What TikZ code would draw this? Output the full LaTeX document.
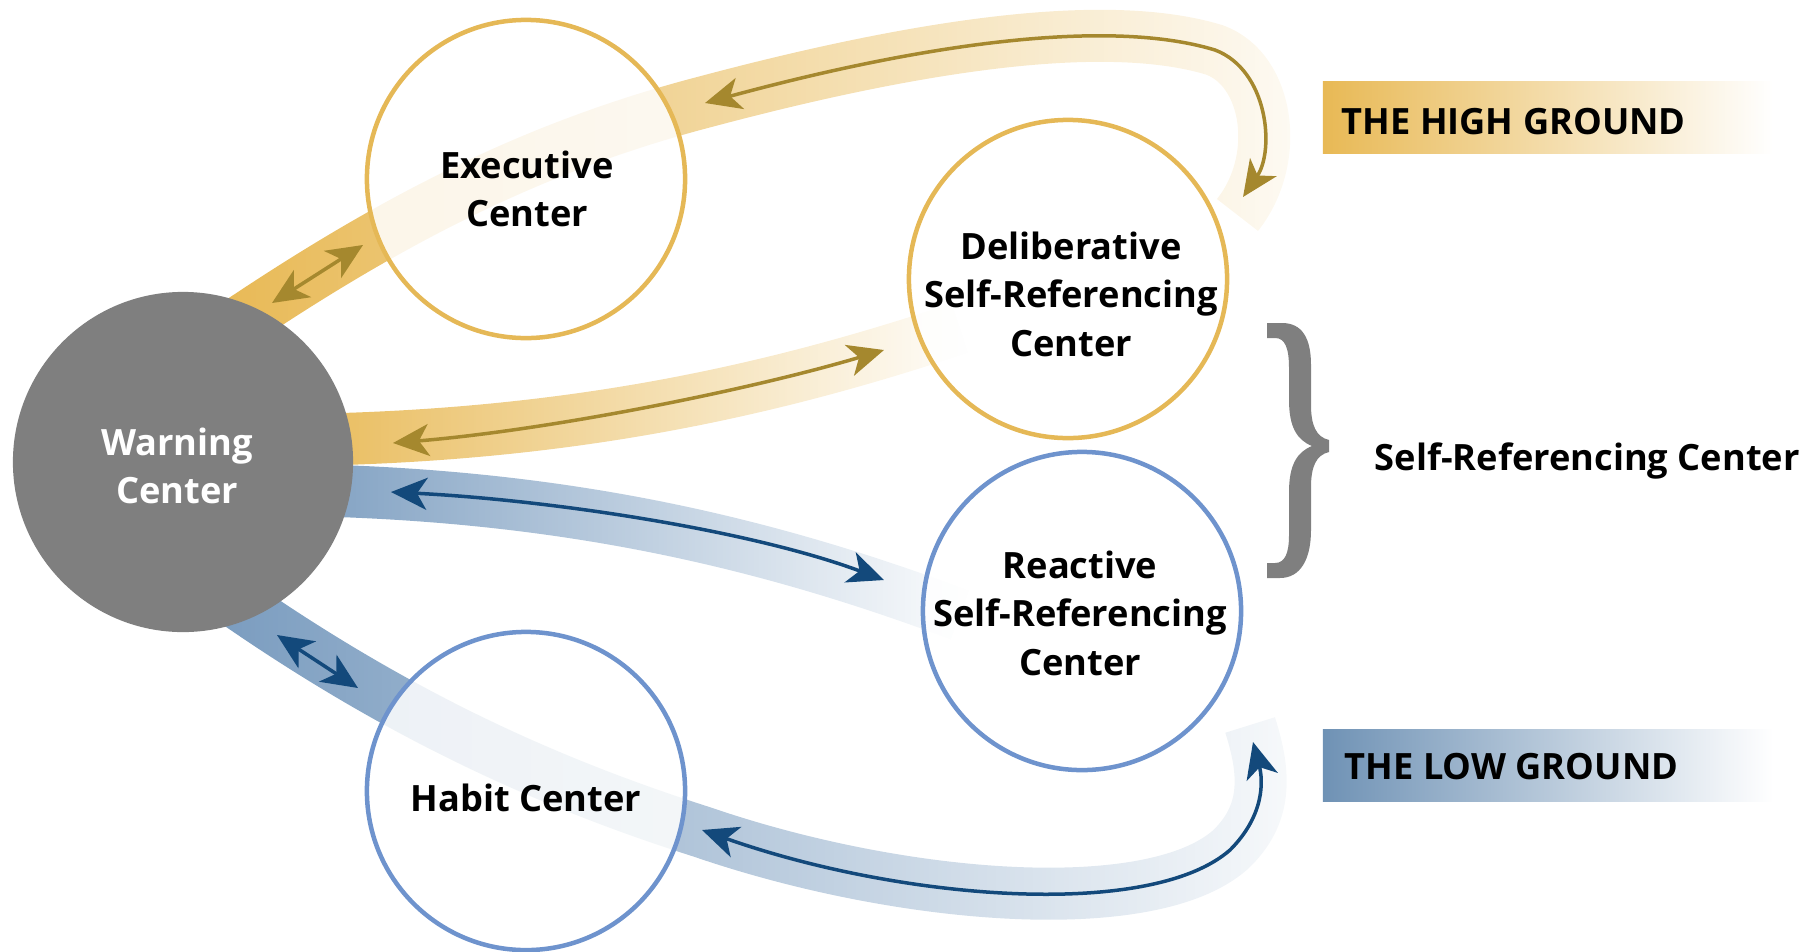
\documentclass[tikz,border=0pt]{standalone}
\usepackage{fontspec}
\setmainfont{Open Sans}
\usetikzlibrary{arrows.meta,fadings}

\definecolor{gband}{HTML}{E8B955}
\definecolor{gring}{HTML}{E5B856}
\definecolor{garr}{HTML}{A5882E}
\definecolor{bband}{HTML}{7A9CBF}
\definecolor{bbar}{HTML}{6F92B5}
\definecolor{bring}{HTML}{6E93CD}
\definecolor{barr}{HTML}{13497B}
\definecolor{wgray}{HTML}{7F7F7F}

\tikzfading[name=loopfade, left color=transparent!0, right color=transparent!94]
\tikzfading[name=linkfade, left color=transparent!0, right color=transparent!100]

\tikzset{
	band/.style={line width=0.52cm},
	ring/.style={circle, line width=0.045cm, fill=white, fill opacity=0.85, minimum size=3.18cm, inner sep=0pt},
	lbl/.style={font={\fontsize{10.3pt}{13.8pt}\selectfont\bfseries}, align=center, inner sep=0pt},
	bar/.style={minimum width=4.5cm, minimum height=0.71cm, inner sep=0pt},
	garrow/.style={draw=garr, line width=0.035cm, >={Stealth[length=0.36cm, width=0.32cm, inset=0.1cm]}, <->},
	barrow/.style={draw=barr, line width=0.035cm, >={Stealth[length=0.36cm, width=0.32cm, inset=0.1cm]}, <->}
}

\begin{document}
\begin{tikzpicture}[x=0.01cm, y=-0.01cm]
	\useasboundingbox (0,0) rectangle (1806,951);

	% bands
	\draw[band, gband, path fading=loopfade] (240,322) .. controls (400,215) and (540,145) .. (705,102) .. controls (900,50) and (1100,15) .. (1215,50) .. controls (1270,70) and (1282,160) .. (1238,215);
	\draw[band, gband, path fading=linkfade] (300,440) .. controls (560,436) and (760,395) .. (960,328);
	\draw[band, bband, path fading=linkfade] (300,490) .. controls (560,495) and (760,540) .. (960,615);
	\draw[band, bband, path fading=loopfade] (240,605) .. controls (400,715) and (545,782) .. (702,832) .. controls (900,900) and (1150,920) .. (1230,850) .. controls (1267,815) and (1266,775) .. (1250,725);

	% centers
	\node[circle, fill=wgray, minimum size=3.4cm, inner sep=0pt] (warn) at (183,462) {};
	\node[ring, draw=gring] (exec) at (526,179) {};
	\node[ring, draw=gring] (delib) at (1068,279) {};
	\node[ring, draw=bring] (react) at (1082,611) {};
	\node[ring, draw=bring] (habit) at (526,791) {};

	\node[lbl, white] (warn-t) at (177,466) {Warning\\Center};
	\node[lbl] (exec-t) at (527,189) {Executive\\Center};
	\node[lbl] (delib-t) at (1071,294) {Deliberative\\Self-Referencing\\Center};
	\node[lbl] (react-t) at (1080,613) {Reactive\\Self-Referencing\\Center};
	\node[lbl] (habit-t) at (526,798) {Habit Center};

	% arrows
	\coordinate (g1) at (272,303);
	\coordinate (g2) at (363,245);
	\coordinate (g3) at (393,443);
	\coordinate (g4) at (884,350);
	\coordinate (g5) at (705,103);
	\coordinate (g6) at (1243,197);
	\coordinate (b1) at (391,492);
	\coordinate (b2) at (884,580);
	\coordinate (b3) at (277,635);
	\coordinate (b4) at (358,688);
	\coordinate (b5) at (702,830);
	\coordinate (b6) at (1253,742);

	\draw[garrow] (g1) -- (g2);
	\draw[garrow] (g3) .. controls (550,430) and (750,390) .. (g4);
	\draw[garrow] (g5) .. controls (900,50) and (1100,15) .. (1215,50) .. controls (1268,70) and (1275,150) .. (g6);
	\draw[barrow] (b1) .. controls (550,500) and (750,530) .. (b2);
	\draw[barrow] (b3) -- (b4);
	\draw[barrow] (b5) .. controls (900,900) and (1150,920) .. (1230,850) .. controls (1265,815) and (1263,780) .. (b6);

	% right side
	\node[bar, left color=gband, right color=white] (hbar) at (1548,117.5) {};
	\node[bar, left color=bbar, right color=white] (lbar) at (1548,765.5) {};
	\node[lbl, anchor=base west] (htxt) at (1341,134) {THE HIGH GROUND};
	\node[lbl, anchor=base west] (ltxt) at (1344,779) {THE LOW GROUND};

	\fill[wgray] (1267,323) -- (1282,323) .. controls (1302,323) and (1311,338) .. (1311,365) -- (1311,405) .. controls (1311,425) and (1316,437) .. (1329,440) -- (1329,452) .. controls (1316,455) and (1311,467) .. (1311,487) -- (1311,530) .. controls (1311,560) and (1300,578) .. (1280,578) -- (1267,578) -- (1267,563) -- (1275,563) .. controls (1285,563) and (1289,553) .. (1289,535) -- (1289,492) .. controls (1289,465) and (1297,452) .. (1312,446) .. controls (1297,440) and (1289,427) .. (1289,400) -- (1289,368) .. controls (1289,348) and (1285,338) .. (1275,338) -- (1267,338) -- cycle;
	\node[lbl, anchor=base west] (srtxt) at (1374,470) {Self-Referencing Center};
\end{tikzpicture}
\end{document}
